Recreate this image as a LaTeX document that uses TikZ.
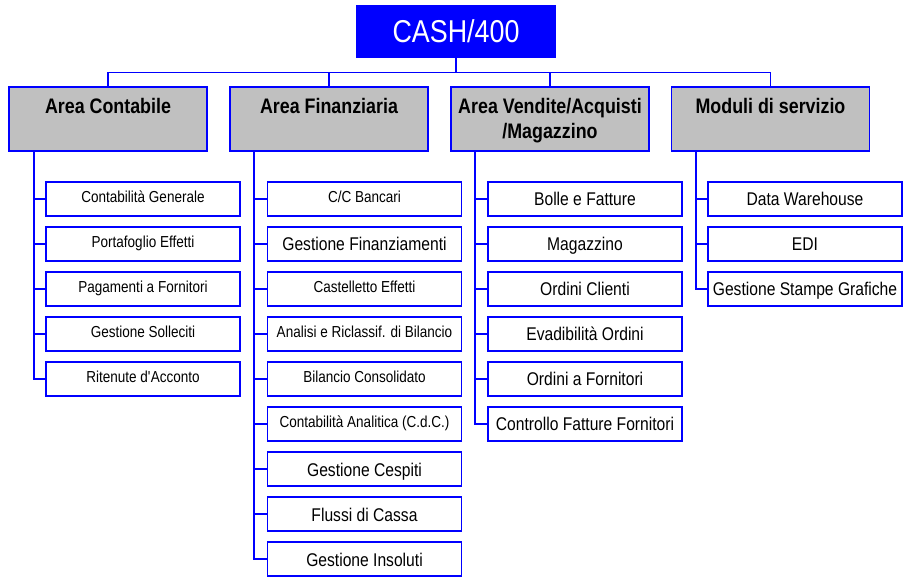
\documentclass[tikz,border=0pt]{standalone}
\usepackage{fontspec}
\setmainfont[FakeStretch=0.85]{Liberation Sans}
\definecolor{areagray}{RGB}{192,192,192}
\begin{document}
\begin{tikzpicture}[x=1pt,y=-1pt,line width=1.2pt,
    rootbox/.style={draw=blue, fill=blue, text=white, minimum width=198pt, minimum height=51pt, inner sep=0pt,
        font=\fontsize{31.6}{38}\selectfont, text height=22.6pt, text depth=0pt},
    areabox/.style={draw=blue, fill=areagray, minimum width=198pt, minimum height=64pt, inner sep=0pt, align=center,
        font=\fontsize{21}{25}\selectfont\bfseries, text height=26.5pt, text depth=37.5pt},
    modsmall/.style={draw=blue, fill=white, minimum width=194pt, minimum height=34pt, inner sep=0pt,
        font=\fontsize{15.9}{19}\selectfont, text height=11.5pt, text depth=4.5pt},
    modlarge/.style={modsmall, font=\fontsize{18.4}{22}\selectfont, text height=14pt, text depth=0pt},
    link/.style={draw=blue}]
        \useasboundingbox (0,0) rectangle (903,577);
        % Nodes
        \node[rootbox] (cash) at (456,31.5) {CASH/400};
        \node[areabox] (contab) at (108,119) {Area Contabile};
        \node[areabox] (finanz) at (329,119) {Area Finanziaria};
        \node[areabox, text height=51.5pt, text depth=12.5pt] (vendite) at (550,119) {Area Vendite/Acquisti\\/Magazzino};
        \node[areabox] (moduli) at (770.5,119) {Moduli di servizio};
        % Area Contabile
        \node[modsmall] (cg) at (143,199) {Contabilità Generale};
        \node[modsmall] (pe) at (143,244) {Portafoglio Effetti};
        \node[modsmall] (pf) at (143,289) {Pagamenti a Fornitori};
        \node[modsmall] (gs) at (143,334) {Gestione Solleciti};
        \node[modsmall] (ra) at (143,379) {Ritenute d\textquotesingle Acconto};
        % Area Finanziaria
        \node[modsmall] (cc) at (364.5,199) {C/C Bancari};
        \node[modlarge] (gf) at (364.5,244) {Gestione Finanziamenti};
        \node[modsmall] (ce) at (364.5,289) {Castelletto Effetti};
        \node[modsmall] (ar) at (364.5,334) {Analisi e Riclassif. di Bilancio};
        \node[modsmall] (bc) at (364.5,379) {Bilancio Consolidato};
        \node[modsmall] (ca) at (364.5,424) {Contabilità Analitica (C.d.C.)};
        \node[modlarge] (gc) at (364.5,469) {Gestione Cespiti};
        \node[modlarge] (fc) at (364.5,514) {Flussi di Cassa};
        \node[modlarge] (gi) at (364.5,559) {Gestione Insoluti};
        % Area Vendite/Acquisti/Magazzino
        \node[modlarge] (bf) at (585,199) {Bolle e Fatture};
        \node[modlarge] (mag) at (585,244) {Magazzino};
        \node[modlarge] (oc) at (585,289) {Ordini Clienti};
        \node[modlarge] (eo) at (585,334) {Evadibilità Ordini};
        \node[modlarge] (of) at (585,379) {Ordini a Fornitori};
        \node[modlarge] (cf) at (585,424) {Controllo Fatture Fornitori};
        % Moduli di servizio
        \node[modlarge] (dw) at (805,199) {Data Warehouse};
        \node[modlarge] (edi) at (805,244) {EDI};
        \node[modlarge] (sg) at (805,289) {Gestione Stampe Grafiche};
        % Trunks
        \coordinate (contabT) at (34,151);
        \coordinate (finanzT) at (254,151);
        \coordinate (venditeT) at (475,151);
        \coordinate (moduliT) at (696,151);
        % Links
        \draw[link] (cash.south) -- ++(0,15) -| (contab.north);
        \draw[link] (cash.south) -- ++(0,15) -| (finanz.north);
        \draw[link] (cash.south) -- ++(0,15) -| (vendite.north);
        \draw[link] (cash.south) -- ++(0,15) -| (moduli.north);
        \draw[link] (contabT) |- (cg.west);
        \draw[link] (contabT) |- (pe.west);
        \draw[link] (contabT) |- (pf.west);
        \draw[link] (contabT) |- (gs.west);
        \draw[link] (contabT) |- (ra.west);
        \draw[link] (finanzT) |- (cc.west);
        \draw[link] (finanzT) |- (gf.west);
        \draw[link] (finanzT) |- (ce.west);
        \draw[link] (finanzT) |- (ar.west);
        \draw[link] (finanzT) |- (bc.west);
        \draw[link] (finanzT) |- (ca.west);
        \draw[link] (finanzT) |- (gc.west);
        \draw[link] (finanzT) |- (fc.west);
        \draw[link] (finanzT) |- (gi.west);
        \draw[link] (venditeT) |- (bf.west);
        \draw[link] (venditeT) |- (mag.west);
        \draw[link] (venditeT) |- (oc.west);
        \draw[link] (venditeT) |- (eo.west);
        \draw[link] (venditeT) |- (of.west);
        \draw[link] (venditeT) |- (cf.west);
        \draw[link] (moduliT) |- (dw.west);
        \draw[link] (moduliT) |- (edi.west);
        \draw[link] (moduliT) |- (sg.west);

    \end{tikzpicture}
\end{document}
